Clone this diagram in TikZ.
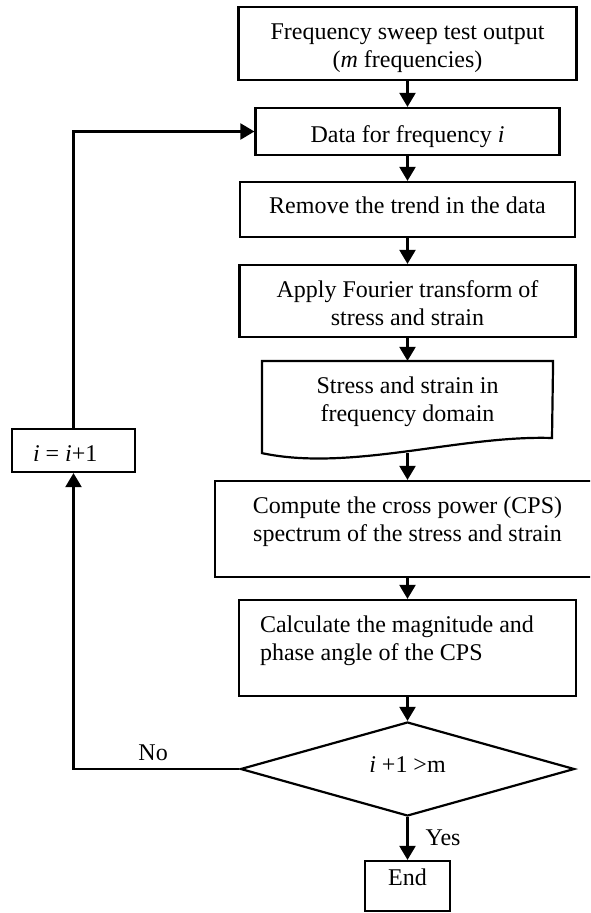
\documentclass[tikz,border=0pt]{standalone}
\usepackage{fontspec}
\setmainfont{Liberation Serif}
\usetikzlibrary{arrows.meta,positioning,shapes.geometric}
\tikzset{
  fc diagram/.style={x=1pt, y=-1pt, line width=2.2pt},
  fc box/.style={draw, inner sep=0pt},
  fc decision/.style={fc box, diamond},
  fc text/.style={font=\fontsize{24}{28}\selectfont, align=center, inner sep=0pt},
  fc arrow/.style={-{Triangle[length=14pt,width=16pt]}}
}

\begin{document}
\begin{tikzpicture}[fc diagram]
\useasboundingbox (0,0) rectangle (590,913);
\clip (0,0) rectangle (590,913);
% frames
\node[fc box, minimum width=338pt, minimum height=73pt] (sweep) at (407.5,43.5) {};
\node[fc box, minimum width=304pt, minimum height=47pt] (data) at (407.5,131.5) {};
\node[fc box, minimum width=335pt, minimum height=55pt] (trend) at (407.5,209.5) {};
\node[fc box, minimum width=336pt, minimum height=72pt] (fourier) at (407.5,301) {};
\node[inner sep=0pt, minimum width=289pt, minimum height=90pt] (freq) at (407.5,407) {};
\node[fc box, minimum width=385pt, minimum height=96pt] (cps) at (407.5,529) {};
\node[fc box, minimum width=337pt, minimum height=96pt] (calc) at (407.5,648) {};
\node[fc decision, minimum width=334pt, minimum height=94pt] (cond) at (407.5,769) {};
\node[fc box, minimum width=85pt, minimum height=50pt] (stop) at (407.5,886) {};
\node[fc box, minimum width=123pt, minimum height=43pt] (incr) at (73.5,450.5) {};
% document shape with wavy bottom
\draw (freq.north west) -- (freq.north east) -- (552,438)
  .. controls (460,435) and (350,472) .. (freq.south west) -- cycle;

% texts
\node[fc text, below=17pt of sweep.north] (sweeptxt) {Frequency sweep test output\\(\textit{m} frequencies)};
\node[fc text, below=17.5pt of data.north] (datatxt) {Data for frequency \textit{i}};
\node[fc text, below=14.6pt of trend.north] (trendtxt) {Remove the trend in the data};
\node[fc text, below=15.6pt of fourier.north] (fouriertxt) {Apply Fourier transform of\\stress and strain};
\node[fc text, below=14.6pt of freq.north] (freqtxt) {Stress and strain in\\frequency domain};
\node[fc text, below=15.6pt of cps.north] (cpstxt) {Compute the cross power (CPS)\\spectrum of the stress and strain};
\node[fc text, align=left, below right=15.6pt and 21pt of calc.north west] (calctxt) {Calculate the magnitude and\\phase angle of the CPS};
\node[fc text, anchor=base] (condtxt) at ([yshift=-3pt]cond.center) {\textit{i} +1 >m};
\node[fc text, below=8pt of stop.north] (stoptxt) {End};
\node[fc text, below right=16.6pt and 21pt of incr.north west] (incrtxt) {\textit{i} = \textit{i}+1};

% connectors
\draw[fc arrow] (sweep) -- (data);
\draw[fc arrow] (data) -- (trend);
\draw[fc arrow] (trend) -- (fourier);
\draw[fc arrow] (fourier) -- (freq);
\draw[fc arrow] (freq.south) -- (cps);
\draw[fc arrow] (cps) -- (calc);
\draw[fc arrow] (calc) -- (cond);
\draw[fc arrow] (cond) -- node[fc text, midway, anchor=base west, xshift=17pt, yshift=-6.5pt] (yes) {Yes} (stop);
\draw[fc arrow] (cond.west) -- node[fc text, pos=0.52, anchor=base, yshift=9pt] (no) {No} (cond.west -| incr.south) -- (incr.south);
\draw[fc arrow] (incr.north) -- (incr.north |- data.west) -- (data.west);
\end{tikzpicture}
\end{document}
